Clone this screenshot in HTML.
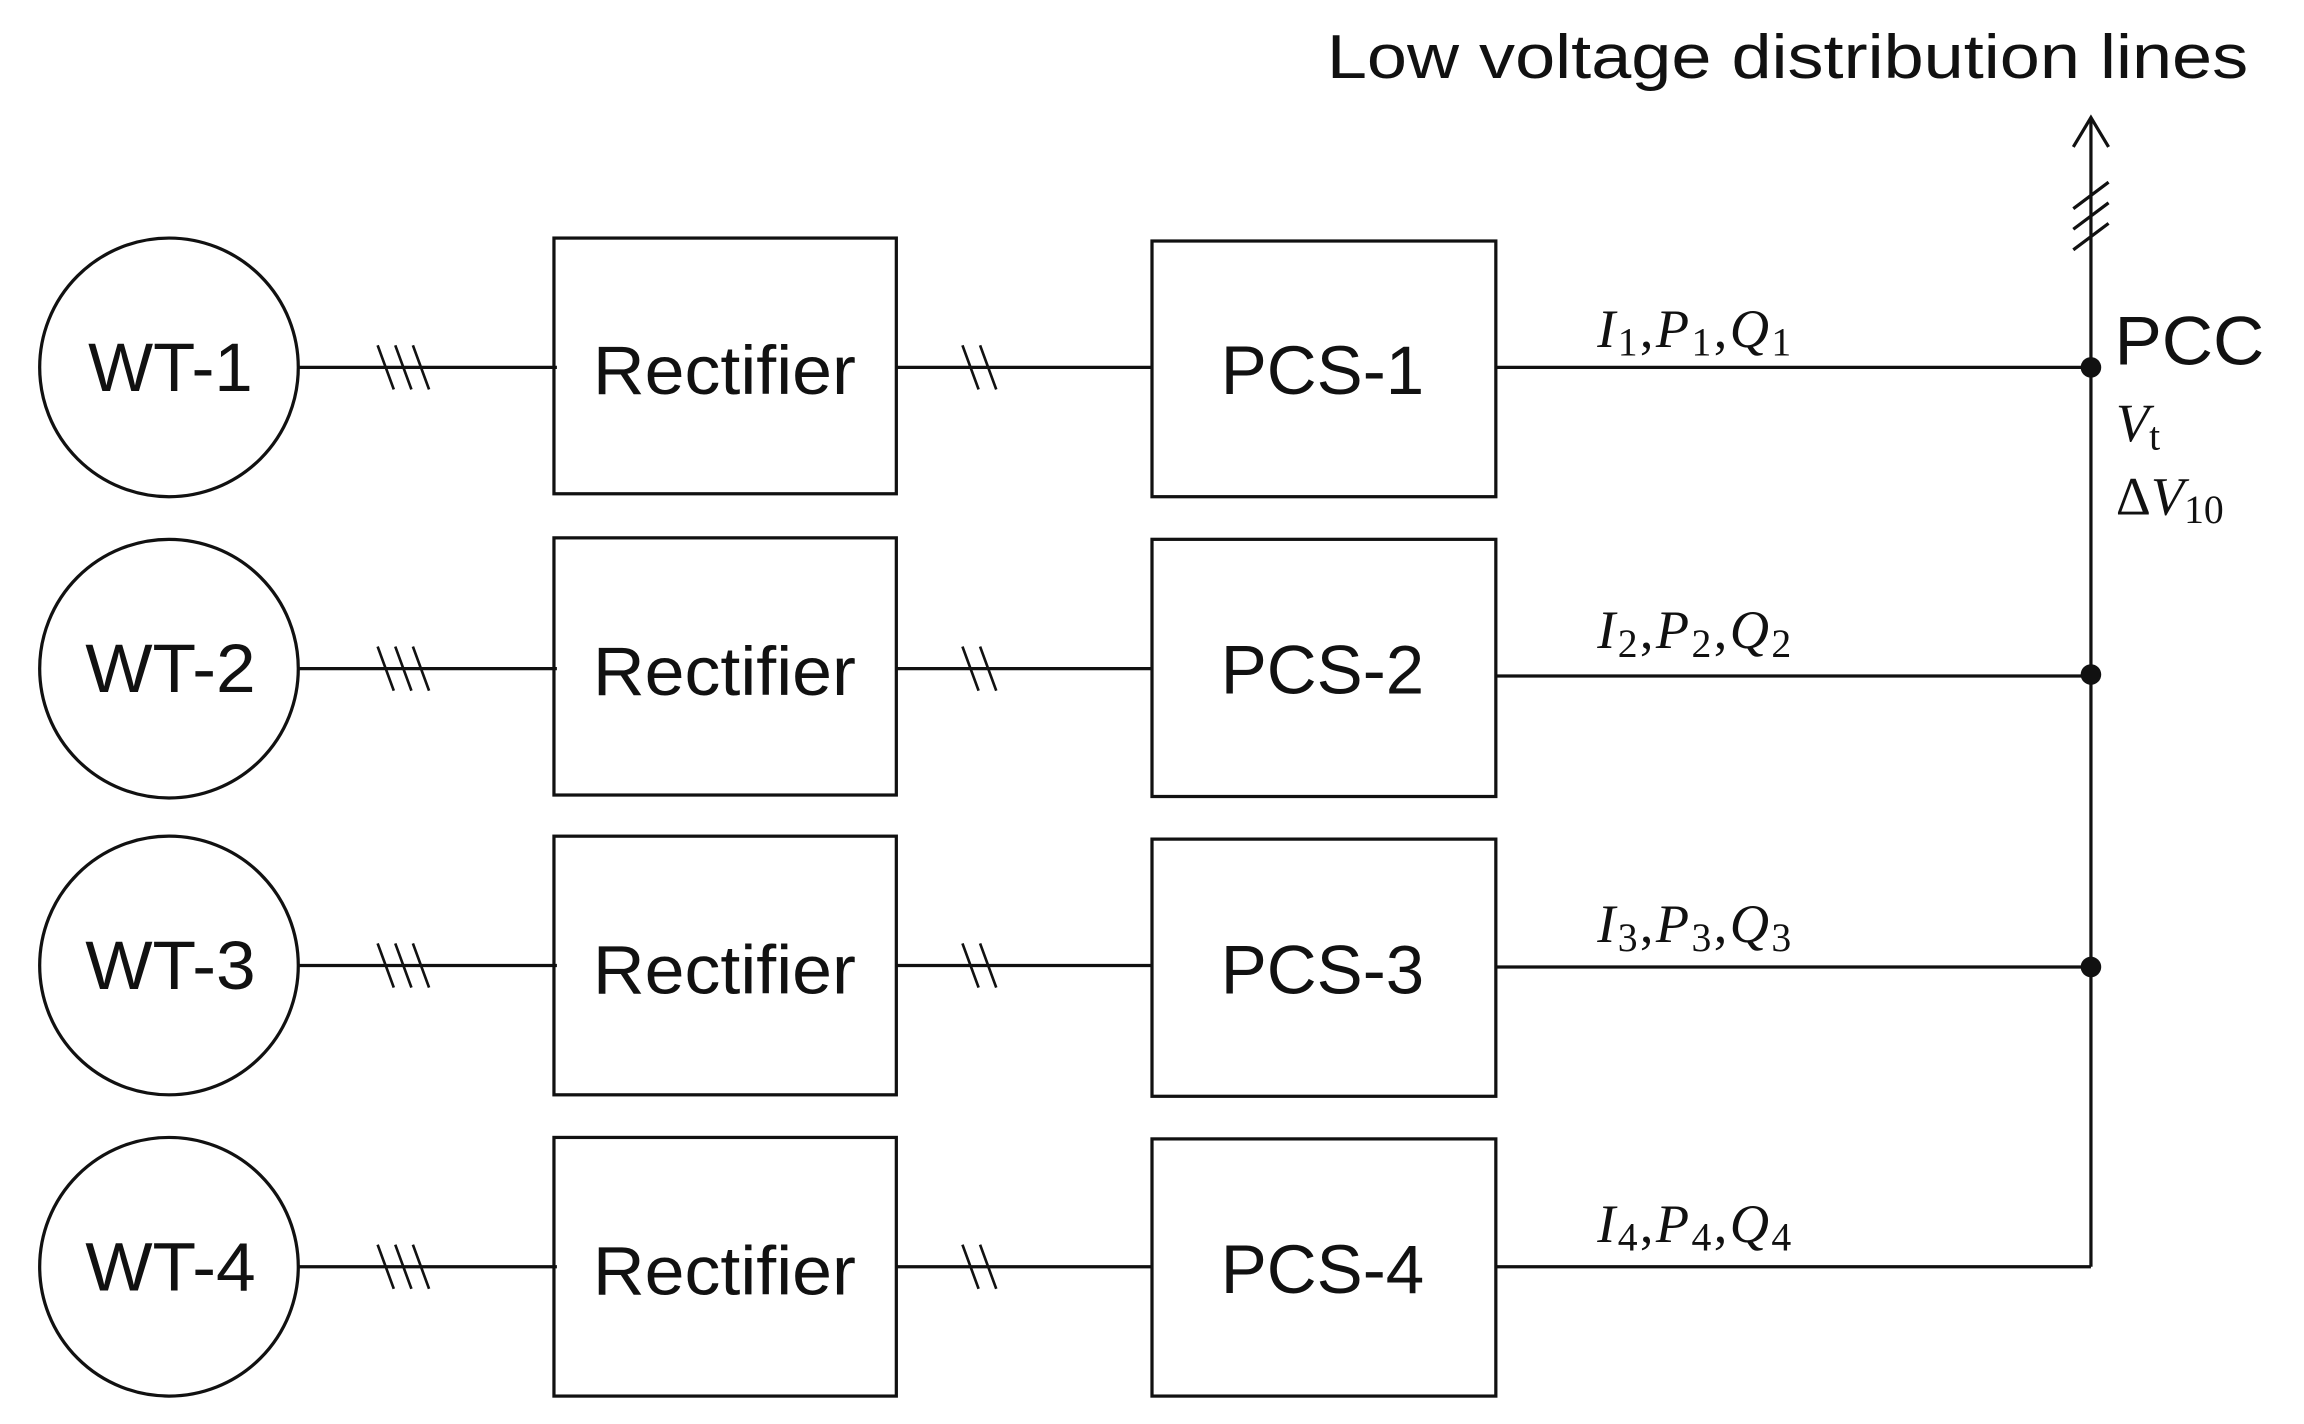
<!DOCTYPE html>
<html><head><meta charset="utf-8"><style>html,body{margin:0;padding:0;background:#fff}svg{display:block}</style></head>
<body>
<svg width="2304" height="1424" viewBox="0 0 1568 969" preserveAspectRatio="none" xmlns="http://www.w3.org/2000/svg">
<g fill="none" stroke="#111" stroke-width="2.2">
<circle cx="115" cy="250" r="88"/>
<circle cx="115" cy="455" r="88"/>
<circle cx="115" cy="657" r="88"/>
<circle cx="115" cy="862" r="88"/>
<rect x="377" y="162" width="233" height="174"/>
<rect x="377" y="366" width="233" height="175"/>
<rect x="377" y="569" width="233" height="176"/>
<rect x="377" y="774" width="233" height="176"/>
<rect x="784" y="164" width="234" height="174"/>
<rect x="784" y="367" width="234" height="175"/>
<rect x="784" y="571" width="234" height="175"/>
<rect x="784" y="775" width="234" height="175"/>
<path d="M203 250H379M610 250H784M1018 250H1423"/>
<path d="M203 455H379M610 455H784M1018 460H1423"/>
<path d="M203 657H379M610 657H784M1018 658H1423"/>
<path d="M203 862H379M610 862H784M1018 862H1423"/>
<path d="M1423 862V80"/>
<path d="M1411 100L1423 80L1435 100"/>
<path d="M1411 142L1435 124M1411 156L1435 138M1411 170L1435 152"/>
<g stroke-width="1.8">
<path d="M257 235L268 265M269 235L280 265M281 235L292 265"/>
<path d="M257 440L268 470M269 440L280 470M281 440L292 470"/>
<path d="M257 642L268 672M269 642L280 672M281 642L292 672"/>
<path d="M257 847L268 877M269 847L280 877M281 847L292 877"/>
<path d="M655 235L666 265M667 235L678 265"/>
<path d="M655 440L666 470M667 440L678 470"/>
<path d="M655 642L666 672M667 642L678 672"/>
<path d="M655 847L666 877M667 847L678 877"/>
</g>
</g>
<g fill="#111">
<circle cx="1423" cy="250" r="7"/>
<circle cx="1423" cy="459" r="7"/>
<circle cx="1423" cy="658" r="7"/>
</g>
<g font-family="Liberation Sans, sans-serif" font-size="47" fill="#111" text-anchor="middle">
<text x="116" y="266" textLength="112" lengthAdjust="spacingAndGlyphs">WT-1</text>
<text x="116" y="471" textLength="116" lengthAdjust="spacingAndGlyphs">WT-2</text>
<text x="116" y="673" textLength="116" lengthAdjust="spacingAndGlyphs">WT-3</text>
<text x="116" y="878" textLength="116" lengthAdjust="spacingAndGlyphs">WT-4</text>
<text x="493" y="268" textLength="179" lengthAdjust="spacingAndGlyphs">Rectifier</text>
<text x="493" y="473" textLength="179" lengthAdjust="spacingAndGlyphs">Rectifier</text>
<text x="493" y="676" textLength="179" lengthAdjust="spacingAndGlyphs">Rectifier</text>
<text x="493" y="881" textLength="179" lengthAdjust="spacingAndGlyphs">Rectifier</text>
<text x="900" y="268">PCS-1</text>
<text x="900" y="472">PCS-2</text>
<text x="900" y="676">PCS-3</text>
<text x="900" y="880">PCS-4</text>
</g>
<g font-family="Liberation Sans, sans-serif" fill="#111">
<text x="903" y="53" font-size="42" textLength="627" lengthAdjust="spacingAndGlyphs">Low voltage distribution lines</text>
<text x="1439" y="248" font-size="47" textLength="102" lengthAdjust="spacingAndGlyphs">PCC</text>
</g>
<g font-family="Liberation Serif, serif" font-size="37" fill="#111">
<text x="1087" y="236" textLength="132" lengthAdjust="spacing"><tspan font-style="italic">I</tspan><tspan font-size="27" dy="6">1</tspan><tspan dy="-6">,</tspan><tspan font-style="italic">P</tspan><tspan font-size="27" dy="6">1</tspan><tspan dy="-6">,</tspan><tspan font-style="italic">Q</tspan><tspan font-size="27" dy="6">1</tspan></text>
<text x="1087" y="441" textLength="132" lengthAdjust="spacing"><tspan font-style="italic">I</tspan><tspan font-size="27" dy="6">2</tspan><tspan dy="-6">,</tspan><tspan font-style="italic">P</tspan><tspan font-size="27" dy="6">2</tspan><tspan dy="-6">,</tspan><tspan font-style="italic">Q</tspan><tspan font-size="27" dy="6">2</tspan></text>
<text x="1087" y="641" textLength="132" lengthAdjust="spacing"><tspan font-style="italic">I</tspan><tspan font-size="27" dy="6">3</tspan><tspan dy="-6">,</tspan><tspan font-style="italic">P</tspan><tspan font-size="27" dy="6">3</tspan><tspan dy="-6">,</tspan><tspan font-style="italic">Q</tspan><tspan font-size="27" dy="6">3</tspan></text>
<text x="1087" y="845" textLength="132" lengthAdjust="spacing"><tspan font-style="italic">I</tspan><tspan font-size="27" dy="6">4</tspan><tspan dy="-6">,</tspan><tspan font-style="italic">P</tspan><tspan font-size="27" dy="6">4</tspan><tspan dy="-6">,</tspan><tspan font-style="italic">Q</tspan><tspan font-size="27" dy="6">4</tspan></text>
<text x="1440" y="300"><tspan font-style="italic">V</tspan><tspan font-size="27" dy="6">t</tspan></text>
<text x="1440" y="350">Δ<tspan font-style="italic">V</tspan><tspan font-size="27" dy="6">10</tspan></text>
</g>
</svg>
</body></html>
